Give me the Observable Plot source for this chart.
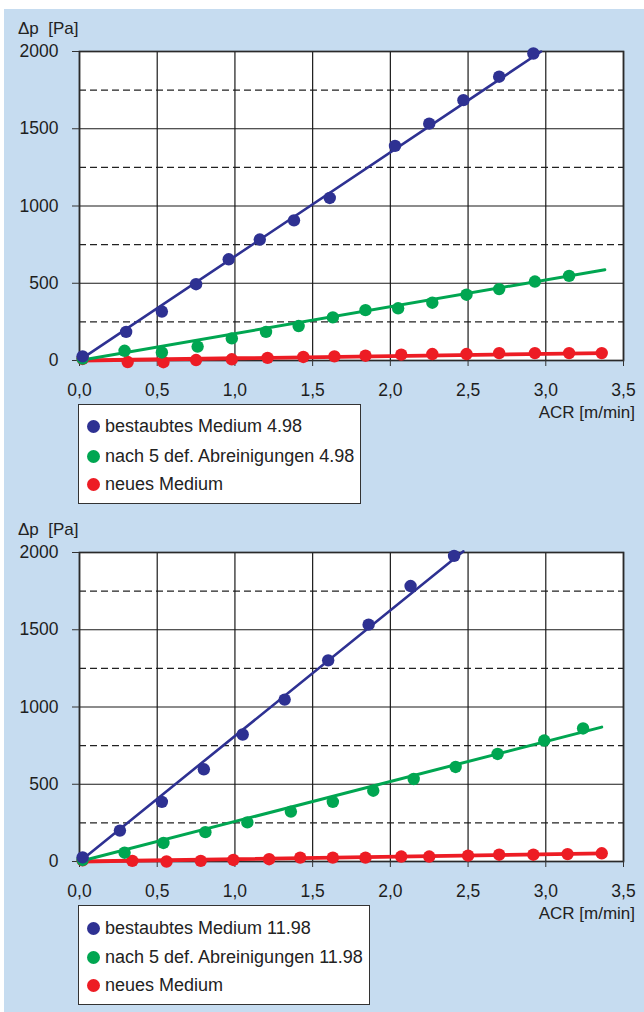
<!DOCTYPE html>
<html>
<head>
<meta charset="utf-8">
<script src="https://cdn.jsdelivr.net/npm/d3@7"></script>
<script src="https://cdn.jsdelivr.net/npm/@observablehq/plot@0.6"></script>
<style>
  html, body { margin: 0; padding: 0; background: #ffffff; }
  #wrap { position: relative; width: 644px; height: 1012px; overflow: hidden; font-family: "Liberation Sans", Arial, sans-serif; color: #222; }
  #panel { position: absolute; left: 4px; top: 9px; right: 0; bottom: 0; background: #c6dcf0; }
  .chart { position: absolute; left: 0; }
  .lbl { position: absolute; font-size: 17px; line-height: 17px; white-space: pre; color: #222; }
  .legend { position: absolute; background: #fff; border: 1.5px solid #333; box-sizing: border-box; }
  .row { position: absolute; left: 0; height: 20px; line-height: 20px; font-size: 18px; white-space: pre; color: #222; }
  .row .b { position: absolute; left: 8px; top: 3.5px; width: 13px; height: 13px; border-radius: 50%; }
  .row .t { position: absolute; left: 26px; top: 0; }
</style>
</head>
<body>
<div id="wrap">
  <div id="panel"></div>
</div>
<script>
// ---------- data ----------
const xTicks = [0, 0.5, 1, 1.5, 2, 2.5, 3, 3.5];
const yTicks = [0, 500, 1000, 1500, 2000];
const yDashTicks = [250, 750, 1250, 1750];
const yLabel = "Δp  [Pa]";
const xLabel = "ACR [m/min]";
const seriesColors = ["#2e3192", "#00a651", "#ed1c24"];
const legendTop = ["bestaubtes Medium 4.98", "nach 5 def. Abreinigungen 4.98", "neues Medium"];
const legendBottom = ["bestaubtes Medium 11.98", "nach 5 def. Abreinigungen 11.98", "neues Medium"];

// Chart 1 (4.98)
const top_blue_x = [0.02, 0.30, 0.53, 0.75, 0.96, 1.16, 1.38, 1.61, 2.03, 2.25, 2.47, 2.70, 2.92];
const top_blue_y = [27, 185, 317, 494, 655, 783, 907, 1052, 1389, 1533, 1685, 1837, 1987];
const top_green_x = [0.02, 0.29, 0.53, 0.76, 0.98, 1.20, 1.41, 1.63, 1.84, 2.05, 2.27, 2.49, 2.70, 2.93, 3.15];
const top_green_y = [12, 63, 52, 90, 143, 185, 223, 279, 326, 338, 374, 426, 462, 511, 548];
const top_red_x = [0.02, 0.31, 0.54, 0.75, 0.98, 1.21, 1.44, 1.64, 1.84, 2.07, 2.27, 2.49, 2.70, 2.93, 3.15, 3.36];
const top_red_y = [10, -10, -11, 3, 8, 17, 23, 27, 31, 38, 42, 42, 48, 48, 48, 48];
const top_blue_fit_x = [0.02, 2.97];
const top_blue_fit_y = [15, 2000];
const top_green_fit_x = [0.0, 3.38];
const top_green_fit_y = [0, 588];
const top_red_fit_x = [0.0, 3.37];
const top_red_fit_y = [0, 48];

// Chart 2 (11.98)
const bot_blue_x = [0.02, 0.26, 0.53, 0.80, 1.05, 1.32, 1.60, 1.86, 2.13, 2.41];
const bot_blue_y = [27, 200, 386, 597, 822, 1048, 1302, 1533, 1783, 1978];
const bot_green_x = [0.02, 0.29, 0.54, 0.81, 1.08, 1.36, 1.63, 1.89, 2.15, 2.42, 2.69, 2.99, 3.24];
const bot_green_y = [10, 57, 120, 190, 253, 323, 386, 458, 534, 612, 696, 783, 861];
const bot_red_x = [0.02, 0.34, 0.56, 0.78, 0.99, 1.22, 1.42, 1.63, 1.84, 2.07, 2.25, 2.50, 2.70, 2.92, 3.14, 3.36];
const bot_red_y = [8, 4, 0, 4, 10, 15, 25, 25, 25, 32, 32, 38, 44, 44, 48, 53];
const bot_blue_fit_x = [0.02, 2.47];
const bot_blue_fit_y = [15, 2008];
const bot_green_fit_x = [0.0, 3.36];
const bot_green_fit_y = [0, 870];
const bot_red_fit_x = [0.0, 3.37];
const bot_red_fit_y = [0, 52];

// ---------- build ----------
const pts = (xs, ys) => xs.map((x, i) => ({x, y: ys[i]}));
const fmtX = d => d.toFixed(1).replace(".", ",");

function makeChart(series) {
  const marks = [
    Plot.frame({fill: "#ffffff", stroke: null}),
    Plot.ruleY(yDashTicks, {stroke: "#222", strokeWidth: 1.2, strokeDasharray: "7,4"}),
    Plot.ruleY(yTicks, {stroke: "#1a1a1a", strokeWidth: 1.2}),
    Plot.ruleX(xTicks, {stroke: "#1a1a1a", strokeWidth: 1.2}),
    Plot.frame({stroke: "#2a2a2a", strokeWidth: 1.7}),
    Plot.axisX({ticks: xTicks, tickFormat: fmtX, tickSize: 6, tickPadding: 17, label: null, stroke: "#333", fontSize: 17.5}),
    Plot.axisY({ticks: yTicks, tickFormat: d => String(d), tickSize: 7, tickPadding: 14, label: null, stroke: "#333", fontSize: 17.5})
  ];
  // fit lines, drawn red -> green -> blue
  const order = [2, 1, 0];
  const widths = [2.6, 3, 3.8];
  for (const i of order) {
    marks.push(Plot.line(series[i].fit, {x: "x", y: "y", stroke: seriesColors[i], strokeWidth: widths[i]}));
  }
  for (const i of order) {
    marks.push(Plot.dot(series[i].pts, {x: "x", y: "y", r: 6.2, fill: seriesColors[i], stroke: "none"}));
  }
  return Plot.plot({
    width: 644,
    height: 400,
    marginTop: 51,
    marginBottom: 40,
    marginLeft: 79,
    marginRight: 21,
    style: {background: "transparent", fontFamily: "'Liberation Sans', Arial, sans-serif", fontSize: "17px", color: "#1e1e1e", overflow: "visible"},
    x: {domain: [0, 3.5]},
    y: {domain: [0, 2000]},
    marks
  });
}

const topSeries = [
  {pts: pts(top_blue_x, top_blue_y), fit: pts(top_blue_fit_x, top_blue_fit_y)},
  {pts: pts(top_green_x, top_green_y), fit: pts(top_green_fit_x, top_green_fit_y)},
  {pts: pts(top_red_x, top_red_y), fit: pts(top_red_fit_x, top_red_fit_y)}
];
const botSeries = [
  {pts: pts(bot_blue_x, bot_blue_y), fit: pts(bot_blue_fit_x, bot_blue_fit_y)},
  {pts: pts(bot_green_x, bot_green_y), fit: pts(bot_green_fit_x, bot_green_fit_y)},
  {pts: pts(bot_red_x, bot_red_y), fit: pts(bot_red_fit_x, bot_red_fit_y)}
];

const wrap = document.getElementById("wrap");

function addLabel(text, css) {
  const d = document.createElement("div");
  d.className = "lbl";
  d.textContent = text;
  Object.assign(d.style, css);
  wrap.appendChild(d);
}

function addLegend(items, left, top, width, height, rowCenters) {
  const box = document.createElement("div");
  box.className = "legend";
  Object.assign(box.style, {left: left + "px", top: top + "px", width: width + "px", height: height + "px"});
  items.forEach((txt, i) => {
    const r = document.createElement("div");
    r.className = "row";
    r.style.top = (rowCenters[i] - top - 10) + "px";
    const b = document.createElement("span");
    b.className = "b";
    b.style.background = seriesColors[i];
    const t = document.createElement("span");
    t.className = "t";
    t.textContent = txt;
    r.appendChild(b);
    r.appendChild(t);
    box.appendChild(r);
  });
  wrap.appendChild(box);
}

function place(offset, series, legendItems, legendW, rows) {
  const svg = makeChart(series);
  svg.classList.add("chart");
  svg.style.top = offset + "px";
  wrap.appendChild(svg);
  addLabel(yLabel, {left: "18px", top: (offset + 20) + "px"});
  addLabel(xLabel, {right: (644 - 635) + "px", top: (offset + 404) + "px"});
  addLegend(legendItems, 78, offset + 404, legendW, 100, rows.map(r => r + offset));
}

place(0, topSeries, legendTop, 283, [425, 455, 483]);
place(501, botSeries, legendBottom, 292, [426, 455, 483]);
</script>
</body>
</html>
